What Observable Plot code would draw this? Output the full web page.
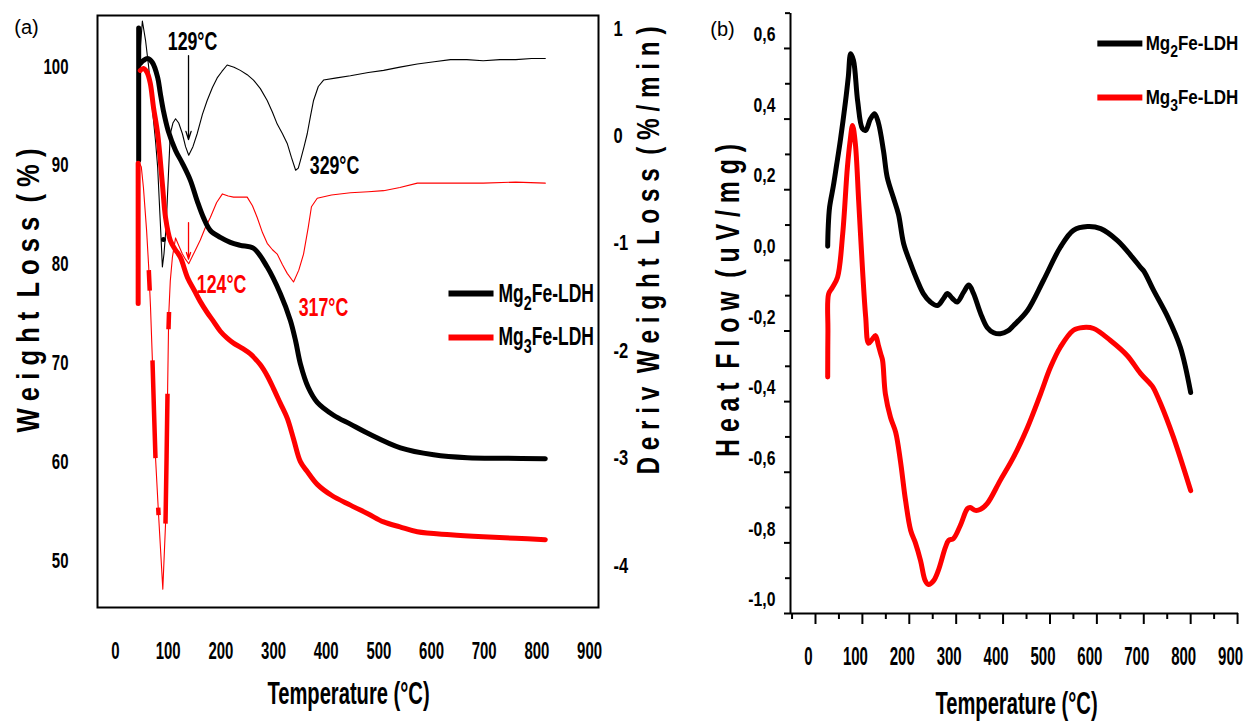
<!DOCTYPE html>
<html><head><meta charset="utf-8">
<script src="https://cdn.jsdelivr.net/npm/d3@7"></script>
<script src="https://cdn.jsdelivr.net/npm/@observablehq/plot@0.6"></script>
<style>
html,body{margin:0;padding:0;background:#fff;}
#wrap{position:relative;width:1246px;height:722px;overflow:hidden;background:#fff;}
.pane{position:absolute;top:0;}
</style></head><body>
<div id="wrap">
  <div id="a-deriv" class="pane" style="left:0;width:690px;height:722px"></div>
  <div id="a-weight" class="pane" style="left:0;width:690px;height:722px"></div>
  <div id="b" class="pane" style="left:690px;width:556px;height:722px"></div>
</div>
<script>
// ---------------- DATA ----------------
const seriesNames = ["Mg2Fe-LDH", "Mg3Fe-LDH"];
const peakLabels = ["129°C", "329°C", "124°C", "317°C"];

// Panel (a) TGA weight (%)
const tgaTempMg2 = [44,44,NaN,47,53,61,70,80,85,91,100,114,127,142,155,167,180,199,218,237,262,288,313,332,342,351,366,383,414,446,478,541,604,668,740,816];
const tgaWtMg2   = [90.5,103.9,NaN,100.3,100.6,100.8,100.4,98.9,97.3,95.5,93.5,91.5,90.2,88.5,86.4,84.7,83.4,82.7,82.2,81.9,81.6,79.7,77.0,74.3,72.2,69.9,67.5,66.0,64.7,63.8,62.9,61.4,60.7,60.4,60.35,60.3];
const tgaTempMg3 = [43,43,NaN,47,53,60,66,72,80,89,95,104,113,123,137,150,161,174,186,199,212,224,240,256,275,288,300,313,326,338,351,364,383,410,446,480,509,540,573,636,698,760,816];
const tgaWtMg3   = [76.0,90.2,NaN,99.6,99.8,99.4,98.3,95.9,93.2,88.1,84.7,82.4,81.5,80.7,78.6,77.3,76.2,75.1,74.2,73.2,72.5,72.0,71.5,70.9,69.8,68.7,67.4,65.9,64.4,62.3,60.0,59.0,57.7,56.6,55.6,54.7,53.9,53.4,52.9,52.6,52.4,52.25,52.1];

// Panel (a) DTG (%/min)
const dtgTempMg2 = [46,51,57,63,70,76,80,85,89,92,96,101,104,109,114,120,127,133,139,147,155,165,174,184,193,202,212,225,237,250,262,275,288,298,307,317,326,334,342,347,351,358,364,370,376,385,395,420,446,480,509,540,573,605,636,667,698,730,760,790,816];
const dtgMg2     = [0.75,1.07,0.89,0.64,0.25,-0.05,-0.29,-0.8,-1.22,-1.1,-0.85,-0.3,0.02,0.12,0.16,0.12,0.02,-0.1,-0.18,-0.1,0.02,0.2,0.33,0.45,0.54,0.6,0.66,0.64,0.61,0.57,0.52,0.44,0.33,0.22,0.11,0.02,-0.07,-0.2,-0.32,-0.3,-0.23,-0.1,0.02,0.18,0.33,0.46,0.52,0.54,0.56,0.59,0.61,0.64,0.67,0.69,0.71,0.71,0.70,0.71,0.71,0.72,0.72];
const dtgTempMg3 = [46,49,53,59,63,66.5,70,76,82,89.8,95,99,101,104,108,114,120,127,133,139,150,161,170,180,192,203,214,224,237,250,260,269,279,288,298,307,317,326,338,348,357,366,372,383,410,446,480,509,540,573,605,636,698,760,816];
const dtgMg3     = [-0.26,-0.29,-0.48,-0.88,-1.22,-1.6,-2.09,-3.0,-3.55,-4.22,-3.61,-2.34,-1.67,-1.35,-1.13,-0.95,-1.02,-1.1,-1.15,-1.19,-1.08,-0.97,-0.86,-0.76,-0.62,-0.54,-0.56,-0.57,-0.57,-0.57,-0.65,-0.76,-0.9,-1.0,-1.06,-1.1,-1.2,-1.28,-1.36,-1.25,-1.1,-0.85,-0.66,-0.58,-0.55,-0.53,-0.52,-0.51,-0.48,-0.44,-0.44,-0.44,-0.44,-0.43,-0.44];
// thick fragments drawn over the Mg3Fe DTG trace
const dtgBoldTempMg3 = [63.2,65,NaN,70.2,73,75.9,NaN,81,81.8,NaN,94.9,97,98.7,NaN,100.6,101.6];
const dtgBoldMg3     = [-1.25,-1.44,NaN,-2.09,-2.55,-3.0,NaN,-3.46,-3.53,NaN,-3.61,-2.98,-2.40,NaN,-1.80,-1.64];
const dtgMarkTemp = [91];
const dtgMarkVal  = [-0.965];

// Panel (b) heat flow (uV/mg)
const dscTempMg2 = [26,27,30,38,45,53,64,70,75,81,90,100,107,117,126,134,145,153,166,177,188,203,217,230,245,260,273,281,292,302,316,327,337,352,366,380,394,410,422,452,486,522,550,580,608,644,678,693,700,721,751,778,800];
const dscMg2     = [0.04,0.09,0.15,0.21,0.27,0.34,0.45,0.52,0.585,0.566,0.45,0.373,0.368,0.40,0.415,0.39,0.31,0.235,0.178,0.13,0.047,-0.01,-0.057,-0.094,-0.118,-0.128,-0.108,-0.094,-0.108,-0.118,-0.09,-0.07,-0.094,-0.15,-0.19,-0.205,-0.208,-0.2,-0.185,-0.142,-0.057,0.037,0.085,0.096,0.09,0.056,0.005,-0.02,-0.03,-0.085,-0.16,-0.246,-0.374];
const dscTempMg3 = [26,26.5,28,36,47,58,68,74,79,85,92,100,107,113,120,128,134,139,143,149,160,171,181,192,203,213,224,234,241,252,262,277,284,294,309,324,330,341,352,366,394,422,452,480,501,522,550,571,593,629,665,693,714,720,736,763,800];
const dscMg3     = [-0.33,-0.2,-0.095,-0.077,-0.048,0.075,0.263,0.34,0.382,0.33,0.17,-0.02,-0.16,-0.235,-0.225,-0.213,-0.24,-0.264,-0.283,-0.378,-0.445,-0.487,-0.567,-0.68,-0.765,-0.8,-0.85,-0.907,-0.918,-0.907,-0.878,-0.813,-0.793,-0.788,-0.75,-0.703,-0.7,-0.708,-0.705,-0.689,-0.623,-0.558,-0.473,-0.378,-0.303,-0.246,-0.198,-0.19,-0.193,-0.227,-0.27,-0.32,-0.35,-0.36,-0.406,-0.50,-0.652];

// ticks
const tempTicks = [0,100,200,300,400,500,600,700,800,900];
const tempMinorTicks = [-50,50,150,250,350,450,550,650,750,850];
const weightTicks = [50,60,70,80,90,100];
const derivTicks = [-4,-3,-2,-1,0,1];
const heatTicks = [-1.0,-0.8,-0.6,-0.4,-0.2,0.0,0.2,0.4,0.6];
const heatMinorTicks = [-0.9,-0.7,-0.5,-0.3,-0.1,0.1,0.3,0.5,0.7];

// ---------------- HELPERS ----------------
const FONT = "'Liberation Sans', Arial, Helvetica, sans-serif";
const BLACK = "#000000", RED = "#ff0000";
const zip = (xs, ys) => xs.map((x, i) => ({x, y: ys[i]}));
const baseStyle = {fontFamily: FONT, background: "transparent", color: "black", overflow: "visible"};
const centered = {textAnchor: "middle", lineAnchor: "middle"};

function condense(svg, scales) {
  svg.querySelectorAll("text").forEach(t => {
    const g = t.closest("g[aria-description]") || t.closest("g[aria-label]");
    const key = g ? (g.getAttribute("aria-description") || g.getAttribute("aria-label")) : "";
    const s = scales[key];
    if (s === undefined || s === 1) return;
    const tr = t.getAttribute("transform") || "";
    t.setAttribute("transform", (tr + ` scale(${s},1)`).trim());
    if (t.hasAttribute("x")) t.setAttribute("x", (+t.getAttribute("x")) / s);
  });
}
function subscripts(svg) {
  const ns = "http://www.w3.org/2000/svg";
  svg.querySelectorAll("text").forEach(t => {
    const m = /^Mg(\d)Fe-LDH$/.exec(t.textContent);
    if (!m) return;
    const fs = parseFloat(getComputedStyle(t).fontSize) || 20;
    t.textContent = "";
    const a = document.createElementNS(ns, "tspan"); a.textContent = "Mg";
    const b = document.createElementNS(ns, "tspan"); b.textContent = m[1];
    b.setAttribute("dy", (fs * 0.32).toFixed(1)); b.setAttribute("font-size", (fs * 0.82).toFixed(1));
    const c = document.createElementNS(ns, "tspan"); c.textContent = "Fe-LDH";
    c.setAttribute("dy", (-fs * 0.32).toFixed(1));
    t.append(a, b, c);
  });
}

const xDomA = [-34.2, 917];
const marginsA = {marginLeft: 97, marginRight: 92, marginTop: 15, marginBottom: 115};

// ---------------- PANEL (a) : DTG (right axis) ----------------
const derivPlot = Plot.plot({
  width: 690, height: 722, ...marginsA,
  x: {domain: xDomA, axis: null},
  y: {domain: [-4.391, 1.121]},
  style: baseStyle,
  marks: [
    Plot.axisY(derivTicks, {anchor: "right", tickSize: 0, tickPadding: 15, fontSize: 22, fontWeight: "bold", tickFormat: d => String(d), label: null}),
    Plot.line(zip(dtgTempMg2, dtgMg2), {x: "x", y: "y", stroke: BLACK, strokeWidth: 1.1}),
    Plot.line(zip(dtgTempMg3, dtgMg3), {x: "x", y: "y", stroke: RED, strokeWidth: 1.1}),
    Plot.line(zip(dtgBoldTempMg3, dtgBoldMg3), {x: "x", y: "y", stroke: RED, strokeWidth: 4.5, strokeLinecap: "butt"}),
    Plot.dot(zip(dtgMarkTemp, dtgMarkVal), {x: "x", y: "y", r: 2.5, fill: BLACK, stroke: null}),
    Plot.text(["D e r i v  W e i g h t  L o s s  ( % / m i n )"], {frameAnchor: "right", dx: 50, dy: -61, rotate: -90, ...centered, fontSize: 32, fontWeight: "bold", fill: BLACK, ariaDescription: "title-yr"})
  ]
});

// ---------------- PANEL (a) : TGA (left axis) ----------------
const annotBlack = [{label: peakLabels[0], x: 146.2, y: 102.5}, {label: peakLabels[1], x: 415.8, y: 89.9}];
const annotRed = [{label: peakLabels[2], x: 201.3, y: 77.9}, {label: peakLabels[3], x: 394.9, y: 75.6}];
const legendA = {x1: 632.2, x2: 717.7, xt: 727.2, y: [77.02, 72.57]};

const weightPlot = Plot.plot({
  width: 690, height: 722, ...marginsA,
  x: {domain: xDomA},
  y: {domain: [45.24, 105.16]},
  style: baseStyle,
  marks: [
    Plot.frame({stroke: BLACK, strokeWidth: 2}),
    Plot.axisX(tempTicks, {tickSize: 0, tickPadding: 35, fontSize: 23, fontWeight: "bold", tickFormat: d => String(d), label: null}),
    Plot.axisY(weightTicks, {tickSize: 0, tickPadding: 29, fontSize: 22, fontWeight: "bold", tickFormat: d => String(d), label: null}),
    Plot.line(zip(tgaTempMg2, tgaWtMg2), {x: "x", y: "y", stroke: BLACK, strokeWidth: 5, curve: "catmull-rom"}),
    Plot.line(zip(tgaTempMg3, tgaWtMg3), {x: "x", y: "y", stroke: RED, strokeWidth: 5, curve: "catmull-rom"}),
    Plot.arrow([{x: 138.6, y1: 101.1, y2: 92.6}], {x1: "x", x2: "x", y1: "y1", y2: "y2", stroke: BLACK, strokeWidth: 1.3, headLength: 10, headAngle: 35}),
    Plot.arrow([{x: 138.6, y1: 84.2, y2: 80.5}], {x1: "x", x2: "x", y1: "y1", y2: "y2", stroke: RED, strokeWidth: 1.3, headLength: 8, headAngle: 35}),
    Plot.text(annotBlack, {x: "x", y: "y", text: "label", ...centered, fill: BLACK, fontSize: 25, fontWeight: "bold", ariaDescription: "annot"}),
    Plot.text(annotRed, {x: "x", y: "y", text: "label", ...centered, fill: RED, fontSize: 25, fontWeight: "bold", ariaDescription: "annot"}),
    Plot.link([0], {x1: legendA.x1, x2: legendA.x2, y1: legendA.y[0], y2: legendA.y[0], stroke: BLACK, strokeWidth: 6}),
    Plot.link([1], {x1: legendA.x1, x2: legendA.x2, y1: legendA.y[1], y2: legendA.y[1], stroke: RED, strokeWidth: 6}),
    Plot.text(seriesNames, {x: legendA.xt, y: (d, i) => legendA.y[i], text: d => d, textAnchor: "start", lineAnchor: "middle", fill: BLACK, fontSize: 25, fontWeight: "bold", ariaDescription: "legend"}),
    Plot.text(["Temperature (°C)"], {frameAnchor: "bottom", dx: 0.5, dy: 86, ...centered, fontSize: 32, fontWeight: "bold", fill: BLACK, ariaDescription: "title-x"}),
    Plot.text(["W e i g h t  L o s s  ( % )"], {frameAnchor: "left", dx: -69, dy: -21, rotate: -90, ...centered, fontSize: 32, fontWeight: "bold", fill: BLACK, ariaDescription: "title-yl"}),
    Plot.text(["(a)"], {frameAnchor: "top-left", dx: -71, dy: 12, ...centered, fontSize: 20, fontWeight: "normal", fill: BLACK, ariaDescription: "panel"})
  ]
});

// ---------------- PANEL (b) : heat flow ----------------
const legendB = {x1: 601, x2: 697, xt: 704, y: [0.614, 0.461]};
const heatPlot = Plot.plot({
  width: 556, height: 722,
  marginLeft: 100, marginRight: 8, marginTop: 13, marginBottom: 109,
  x: {domain: [-53.3, 902]},
  y: {domain: [-1.0, 0.699]},
  style: baseStyle,
  marks: [
    Plot.ruleY([-1.0], {stroke: BLACK, strokeWidth: 2}),
    Plot.ruleX([-53.3], {stroke: BLACK, strokeWidth: 2}),
    Plot.axisX(tempTicks, {tickSize: 11, strokeWidth: 2, tickFormat: () => "", label: null}),
    Plot.axisX(tempMinorTicks, {tickSize: 6, strokeWidth: 2, tickFormat: () => "", label: null}),
    Plot.axisX(tempTicks, {tickSize: 0, tickPadding: 34, dx: -7, fontSize: 25, fontWeight: "bold", tickFormat: d => String(d), label: null}),
    Plot.axisY(heatTicks, {tickSize: 6, strokeWidth: 2, tickFormat: () => "", label: null}),
    Plot.axisY(heatMinorTicks, {tickSize: 5, strokeWidth: 2, tickFormat: () => "", label: null}),
    Plot.axisY(heatTicks, {tickSize: 0, tickPadding: 15, dy: -14, fontSize: 21, fontWeight: "bold", tickFormat: d => d.toFixed(1).replace(".", ","), label: null}),
    Plot.line(zip(dscTempMg2, dscMg2), {x: "x", y: "y", stroke: BLACK, strokeWidth: 5, curve: "catmull-rom"}),
    Plot.line(zip(dscTempMg3, dscMg3), {x: "x", y: "y", stroke: RED, strokeWidth: 5, curve: "catmull-rom"}),
    Plot.link([0], {x1: legendB.x1, x2: legendB.x2, y1: legendB.y[0], y2: legendB.y[0], stroke: BLACK, strokeWidth: 6}),
    Plot.link([1], {x1: legendB.x1, x2: legendB.x2, y1: legendB.y[1], y2: legendB.y[1], stroke: RED, strokeWidth: 6}),
    Plot.text(seriesNames, {x: legendB.xt, y: (d, i) => legendB.y[i], text: d => d, textAnchor: "start", lineAnchor: "middle", fill: BLACK, fontSize: 21, fontWeight: "bold", ariaDescription: "legend"}),
    Plot.text(["Temperature (°C)"], {frameAnchor: "bottom", dx: 2, dy: 90, ...centered, fontSize: 32, fontWeight: "bold", fill: BLACK, ariaDescription: "title-x"}),
    Plot.text(["H e a t  F l o w  ( u V / m g )"], {frameAnchor: "left", dx: -62, dy: -13, rotate: -90, ...centered, fontSize: 34, fontWeight: "bold", fill: BLACK, ariaDescription: "title-y"}),
    Plot.text(["(b)"], {frameAnchor: "top-left", dx: -68, dy: 16, ...centered, fontSize: 20, fontWeight: "normal", fill: BLACK, ariaDescription: "panel"})
  ]
});

document.getElementById("a-deriv").append(derivPlot);
document.getElementById("a-weight").append(weightPlot);
document.getElementById("b").append(heatPlot);

subscripts(weightPlot); subscripts(heatPlot);
condense(derivPlot, {"y-axis tick label": 0.75, "title-yr": 0.76});
condense(weightPlot, {"x-axis tick label": 0.65, "y-axis tick label": 0.68, "title-x": 0.63, "title-yl": 0.8, "annot": 0.71, "legend": 0.7});
condense(heatPlot, {"x-axis tick label": 0.6, "y-axis tick label": 0.75, "title-x": 0.63, "title-y": 0.73, "legend": 0.81});
</script>
</body></html>
